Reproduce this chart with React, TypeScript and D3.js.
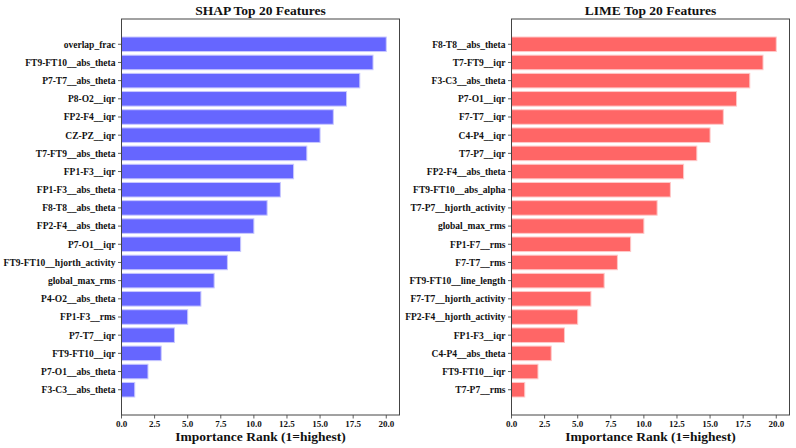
import * as d3 from "d3";
import { useEffect, useRef } from "react";

// SHAP ranking, top to bottom
const shapFeatures = [
  "overlap_frac",
  "FT9-FT10__abs_theta",
  "P7-T7__abs_theta",
  "P8-O2__iqr",
  "FP2-F4__iqr",
  "CZ-PZ__iqr",
  "T7-FT9__abs_theta",
  "FP1-F3__iqr",
  "FP1-F3__abs_theta",
  "F8-T8__abs_theta",
  "FP2-F4__abs_theta",
  "P7-O1__iqr",
  "FT9-FT10__hjorth_activity",
  "global_max_rms",
  "P4-O2__abs_theta",
  "FP1-F3__rms",
  "P7-T7__iqr",
  "FT9-FT10__iqr",
  "P7-O1__abs_theta",
  "F3-C3__abs_theta",
];
const shapScores = [20, 19, 18, 17, 16, 15, 14, 13, 12, 11, 10, 9, 8, 7, 6, 5, 4, 3, 2, 1];

// LIME ranking, top to bottom
const limeFeatures = [
  "F8-T8__abs_theta",
  "T7-FT9__iqr",
  "F3-C3__abs_theta",
  "P7-O1__iqr",
  "F7-T7__iqr",
  "C4-P4__iqr",
  "T7-P7__iqr",
  "FP2-F4__abs_theta",
  "FT9-FT10__abs_alpha",
  "T7-P7__hjorth_activity",
  "global_max_rms",
  "FP1-F7__rms",
  "F7-T7__rms",
  "FT9-FT10__line_length",
  "F7-T7__hjorth_activity",
  "FP2-F4__hjorth_activity",
  "FP1-F3__iqr",
  "C4-P4__abs_theta",
  "FT9-FT10__iqr",
  "T7-P7__rms",
];
const limeScores = [20, 19, 18, 17, 16, 15, 14, 13, 12, 11, 10, 9, 8, 7, 6, 5, 4, 3, 2, 1];

const xTicks = [0, 2.5, 5, 7.5, 10, 12.5, 15, 17.5, 20];

const FONT = "'Liberation Serif', 'Times New Roman', serif";

type Panel = {
  title: string;
  features: string[];
  scores: number[];
  left: number;
  fill: string;
  edge: string;
};

const App = () => {
  const svgRef = useRef<SVGSVGElement | null>(null);

  useEffect(() => {
    const svg = d3.select(svgRef.current);
    svg.selectAll("*").remove();

    const top = 19;
    const bottom = 415;
    const plotW = 278;

    const panels: Panel[] = [
      { title: "SHAP Top 20 Features", features: shapFeatures, scores: shapScores, left: 121.5, fill: "#6666ff", edge: "#c8c8ff" },
      { title: "LIME Top 20 Features", features: limeFeatures, scores: limeScores, left: 511.5, fill: "#ff6666", edge: "#ffc8c8" },
    ];

    panels.forEach((p) => {
      const g = svg.append("g");
      const x = d3.scaleLinear().domain([0, 21]).range([p.left, p.left + plotW]);
      // bars centred on integer positions, first item at the top
      const n = p.features.length;
      const y = d3.scaleLinear().domain([-1.39, n - 1 + 1.39]).range([bottom, top]);
      const pos = (i: number) => n - 1 - i;

      g.selectAll("rect.bar")
        .data(p.scores)
        .enter()
        .append("rect")
        .attr("class", "bar")
        .attr("x", x(0))
        .attr("y", (_, i) => y(pos(i) + 0.4))
        .attr("width", (d) => x(d) - x(0))
        .attr("height", (_, i) => y(pos(i) - 0.4) - y(pos(i) + 0.4))
        .attr("fill", p.fill)
        .attr("stroke", p.edge)
        .attr("stroke-width", 1);

      // y tick marks + labels
      p.features.forEach((f, i) => {
        const yy = y(pos(i));
        g.append("line")
          .attr("x1", x(0) - 3.5)
          .attr("x2", x(0))
          .attr("y1", yy)
          .attr("y2", yy)
          .attr("stroke", "#333")
          .attr("stroke-width", 0.8);
        g.append("text")
          .attr("x", x(0) - 6)
          .attr("y", yy)
          .attr("dy", "0.35em")
          .attr("text-anchor", "end")
          .style("font-family", FONT)
          .style("font-weight", "bold")
          .style("font-size", "9.5px")
          .attr("fill", "#111")
          .text(f);
      });

      // x axis ticks
      xTicks.forEach((t) => {
        g.append("line")
          .attr("x1", x(t))
          .attr("x2", x(t))
          .attr("y1", bottom)
          .attr("y2", bottom + 3.5)
          .attr("stroke", "#333")
          .attr("stroke-width", 0.8);
        g.append("text")
          .attr("x", x(t))
          .attr("y", bottom + 11.5)
          .attr("text-anchor", "middle")
          .style("font-family", FONT)
          .style("font-weight", "bold")
          .style("font-size", "9px")
          .attr("fill", "#111")
          .text(d3.format(".1f")(t));
      });

      // frame
      g.append("rect")
        .attr("x", p.left)
        .attr("y", top)
        .attr("width", plotW)
        .attr("height", bottom - top)
        .attr("fill", "none")
        .attr("stroke", "#444")
        .attr("stroke-width", 1);

      g.append("text")
        .attr("x", p.left + plotW / 2)
        .attr("y", 15)
        .attr("text-anchor", "middle")
        .style("font-family", FONT)
        .style("font-weight", "bold")
        .style("font-size", "13.5px")
        .attr("fill", "#111")
        .text(p.title);

      g.append("text")
        .attr("x", p.left + plotW / 2)
        .attr("y", 441)
        .attr("text-anchor", "middle")
        .style("font-family", FONT)
        .style("font-weight", "bold")
        .style("font-size", "13.5px")
        .attr("fill", "#111")
        .text("Importance Rank (1=highest)");
    });
  }, []);

  return (
    <svg
      ref={svgRef}
      width={796}
      height={448}
      style={{ position: "absolute", left: 0, top: 0, background: "#fff" }}
    />
  );
};

export default App;
